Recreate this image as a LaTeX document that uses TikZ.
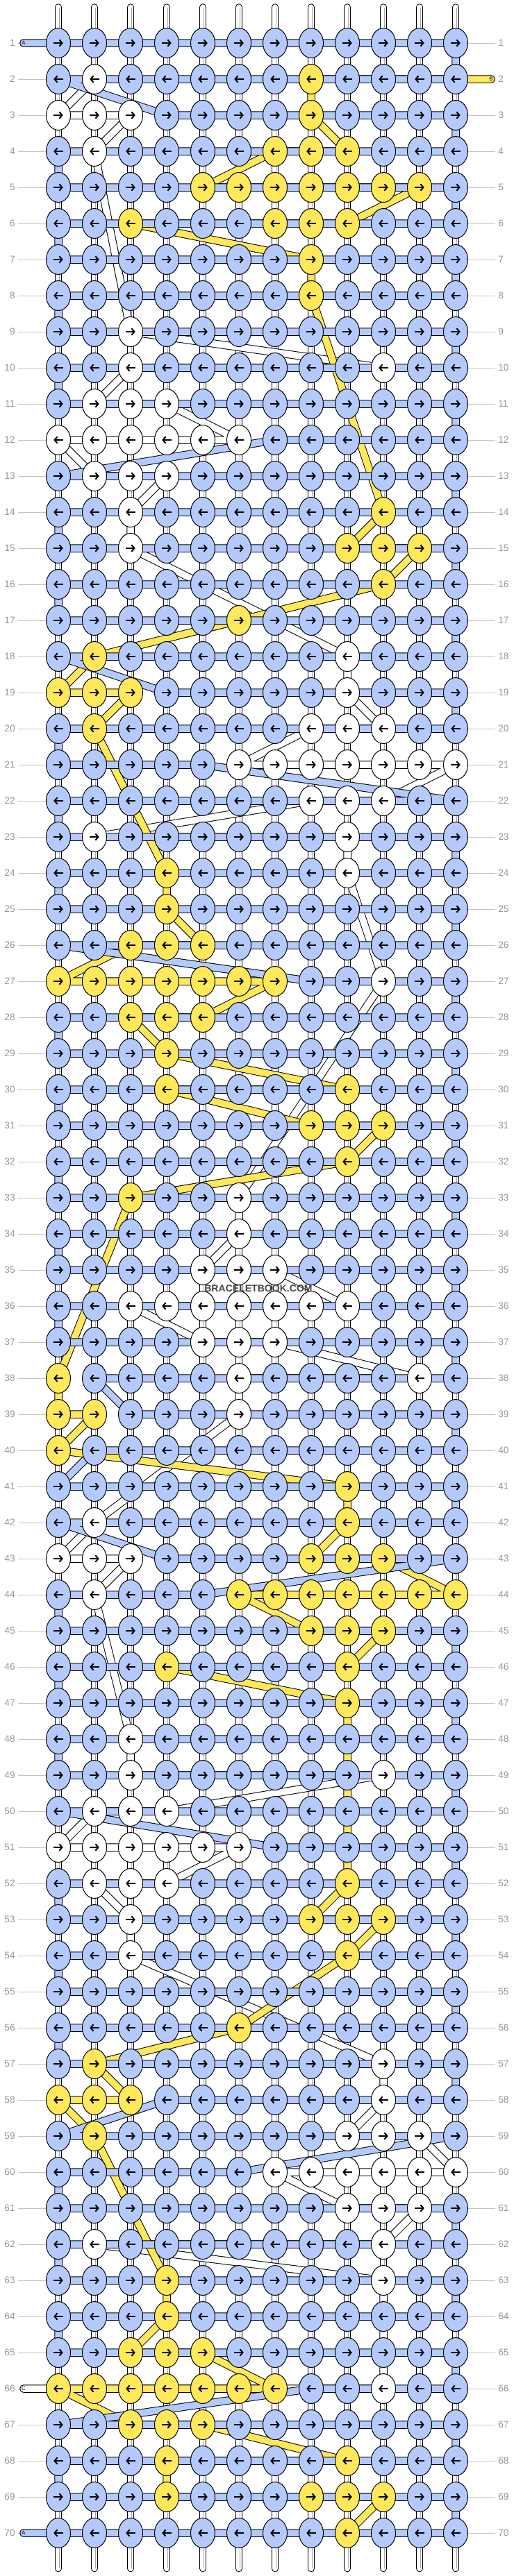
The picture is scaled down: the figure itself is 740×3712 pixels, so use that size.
\documentclass[tikz,border=0pt]{standalone}
\usepackage{fontspec}
\setmainfont{Liberation Sans}
\usetikzlibrary{shapes.geometric,arrows.meta}

\definecolor{knotb}{RGB}{180,202,252}
\definecolor{knoty}{RGB}{255,232,90}
\definecolor{knotw}{RGB}{255,255,255}
\definecolor{numgray}{RGB}{150,150,150}
\definecolor{leadgray}{RGB}{195,195,195}
\definecolor{coregray}{RGB}{170,170,170}
\definecolor{markgray}{RGB}{70,70,70}

\pgfdeclarelayer{strands}
\pgfdeclarelayer{stringC}
\pgfdeclarelayer{stringB}
\pgfdeclarelayer{stringA}
\pgfsetlayers{strands,stringC,stringB,stringA,main}

\begin{document}
\begin{tikzpicture}[x=0.02cm,y=-0.02cm]
      \newcommand{\colx}[1]{84+52*(#1-1)}
      \newcommand{\rowy}[1]{62+52*(#1-1)}

      \useasboundingbox (0,0) rectangle (740,3712);

      \tikzstyle{rownum}=[
        font=\fontsize{7.8pt}{9pt}\selectfont,
        text=numgray,
        inner sep=0pt,
      ]
      \tikzstyle{leadline}=[
        draw=leadgray,
        line width=0.02cm,
      ]
      \tikzstyle{strand}=[
        double=white,
        double distance=0.17cm,
        line width=0.02cm,
        line cap=round,
      ]
      \tikzstyle{strandcore}=[
        draw=coregray,
        double=white,
        double distance=0.03cm,
        line width=0.015cm,
      ]
      \tikzstyle{knotdir}=[
        line width=0.04cm,
        -{Straight Barb[length=0.08cm,width=0.19cm]},
      ]
      \tikzstyle{tailtag}=[
        font=\fontsize{4.4pt}{5pt}\selectfont,
        inner sep=0pt,
      ]
      \tikzstyle{watermark}=[
        font=\bfseries\fontsize{8pt}{9pt}\selectfont,
        text=markgray,
        inner sep=0pt,
      ]
      \tikzset{
        knot/.style={
          ellipse,
          draw,
          line width=0.02cm,
          fill=knot#1,
          minimum width=0.7cm,
          minimum height=0.86cm,
          inner sep=0pt,
        },
        stringband/.style={
          double=#1,
          double distance=0.19cm,
          line width=0.02cm,
          line cap=round,
          line join=round,
        },
      }

      % knots, row by row (b = string A, y = string B, w = string C)
      \foreach \pat [count=\r] in {
        {b,b,b,b,b,b,b,b,b,b,b,b},{b,w,b,b,b,b,b,y,b,b,b,b},{w,w,w,b,b,b,b,y,b,b,b,b},
        {b,w,b,b,b,b,y,y,y,b,b,b},{b,b,b,b,y,y,y,y,y,y,y,b},{b,b,y,b,b,b,y,y,y,b,b,b},
        {b,b,b,b,b,b,b,y,b,b,b,b},{b,b,b,b,b,b,b,y,b,b,b,b},{b,b,w,b,b,b,b,b,b,b,b,b},
        {b,b,w,b,b,b,b,b,b,w,b,b},{b,w,w,w,b,b,b,b,b,b,b,b},{w,w,w,w,w,w,b,b,b,b,b,b},
        {b,w,w,w,b,b,b,b,b,b,b,b},{b,b,w,b,b,b,b,b,b,y,b,b},{b,b,w,b,b,b,b,b,y,y,y,b},
        {b,b,b,b,b,b,b,b,b,y,b,b},{b,b,b,b,b,y,b,b,b,b,b,b},{b,y,b,b,b,b,b,b,w,b,b,b},
        {y,y,y,b,b,b,b,b,w,b,b,b},{b,y,b,b,b,b,b,w,w,w,b,b},{b,b,b,b,b,w,w,w,w,w,w,w},
        {b,b,b,b,b,b,b,w,w,w,b,b},{b,w,b,b,b,b,b,b,w,b,b,b},{b,b,b,y,b,b,b,b,w,b,b,b},
        {b,b,b,y,b,b,b,b,b,b,b,b},{b,b,y,y,y,b,b,b,b,b,b,b},{y,y,y,y,y,y,y,b,b,w,b,b},
        {b,b,y,y,y,b,b,b,b,b,b,b},{b,b,b,y,b,b,b,b,b,b,b,b},{b,b,b,y,b,b,b,b,y,b,b,b},
        {b,b,b,b,b,b,b,y,y,y,b,b},{b,b,b,b,b,b,b,b,y,b,b,b},{b,b,y,b,b,w,b,b,b,b,b,b},
        {b,b,b,b,b,w,b,b,b,b,b,b},{b,b,b,b,w,w,w,b,b,b,b,b},{b,b,w,w,w,w,w,w,w,b,b,b},
        {b,b,b,b,w,w,w,b,b,b,b,b},{y,b,b,b,b,w,b,b,b,b,w,b},{y,y,b,b,b,w,b,b,b,b,b,b},
        {y,b,b,b,b,b,b,b,b,b,b,b},{b,b,b,b,b,b,b,b,y,b,b,b},{b,w,b,b,b,b,b,b,y,b,b,b},
        {w,w,w,b,b,b,b,y,y,y,b,b},{b,w,b,b,b,y,y,y,y,y,y,y},{b,b,b,b,b,b,b,y,y,y,b,b},
        {b,b,b,y,b,b,b,b,y,b,b,b},{b,b,b,b,b,b,b,b,y,b,b,b},{b,b,w,b,b,b,b,b,b,b,b,b},
        {b,b,w,b,b,b,b,b,b,w,b,b},{b,w,w,w,b,b,b,b,b,b,b,b},{w,w,w,w,w,w,b,b,b,b,b,b},
        {b,w,w,w,b,b,b,b,y,b,b,b},{b,b,w,b,b,b,b,y,y,y,b,b},{b,b,w,b,b,b,b,b,y,b,b,b},
        {b,b,b,b,b,b,b,b,b,b,b,b},{b,b,b,b,b,y,b,b,b,b,b,b},{b,y,b,b,b,b,b,b,b,w,b,b},
        {y,y,y,b,b,b,b,b,b,w,b,b},{b,y,b,b,b,b,b,b,w,w,w,b},{b,b,b,b,b,b,w,w,w,w,w,w},
        {b,b,b,b,b,b,b,b,w,w,w,b},{b,w,b,b,b,b,b,b,b,w,b,b},{b,b,b,y,b,b,b,b,b,w,b,b},
        {b,b,b,y,b,b,b,b,b,b,b,b},{b,b,y,y,y,b,b,b,b,b,b,b},{y,y,y,y,y,y,y,b,b,w,b,b},
        {b,b,y,y,y,b,b,b,b,b,b,b},{b,b,b,y,b,b,b,b,y,b,b,b},{b,b,b,y,b,b,b,y,y,y,b,b},
        {b,b,b,b,b,b,b,b,y,b,b,b}} {
        \foreach \kc [count=\c] in \pat {
          \node[knot=\kc] (k-\r-\c) at ({\colx{\c}},{\rowy{\r}}) {};
          \ifodd\r
            \draw[knotdir] ([xshift=-0.135cm]k-\r-\c.center) -- ([xshift=0.135cm]k-\r-\c.center);
          \else
            \draw[knotdir] ([xshift=0.135cm]k-\r-\c.center) -- ([xshift=-0.135cm]k-\r-\c.center);
          \fi
        }
      }

      % row numbers
      \foreach \r in {1,...,70} {
        \node[rownum,anchor=east] (lnum-\r) at (22,{\rowy{\r}}) {\r};
        \node[rownum,anchor=west] (rnum-\r) at (717,{\rowy{\r}}) {\r};
      }

      % string ends
      \node[tailtag] (tagA1) at (34,{\rowy{1}}) {A};
      \node[tailtag] (tagB) at (707,{\rowy{2}}) {B};
      \node[tailtag] (tagC) at (34,{\rowy{66}}) {C};
      \node[tailtag] (tagA70) at (34,{\rowy{70}}) {A};

      \node[watermark] (wm) at (372,1857) {BRACELETBOOK.COM};

      % base strands and leader lines
      \begin{pgfonlayer}{strands}
        \foreach \c in {1,...,12} {
          \coordinate (top-\c) at ({\colx{\c}},10.5);
          \coordinate (bot-\c) at ({\colx{\c}},3701);
          \draw[strand] (top-\c) -- (bot-\c);
          \draw[strandcore] (top-\c) -- (bot-\c);
        }
        \foreach \r in {1,...,70} {
          \draw[leadline] ([xshift=0.08cm]lnum-\r.east) -- (k-\r-1.west);
          \draw[leadline] (k-\r-12.east) -- ([xshift=-0.08cm]rnum-\r.west);
        }
      \end{pgfonlayer}

      % string C
      \newcommand{\cknots}{3/1, 3/3, 4/2, 9/3, 10/10, 10/3, 11/2, 11/4, 12/6, 12/1,
        13/2, 13/4, 14/3, 15/3, 18/9, 19/9, 20/10, 20/8, 21/6, 21/12, 22/10, 22/8,
        23/2, 23/9, 24/9, 27/10, 33/6, 34/6, 35/5, 35/7, 36/9, 36/3, 37/5, 37/7,
        38/11, 38/6, 39/6, 42/2, 43/1, 43/3, 44/2, 48/3, 49/3, 49/10, 50/4, 50/2,
        51/1, 51/6, 52/4, 52/2, 53/3, 54/3, 57/10, 58/10, 59/9, 59/11, 60/12, 60/7,
        61/9, 61/11, 62/10, 62/2, 63/10, 66/10}
      \begin{pgfonlayer}{stringC}
        \draw[stringband=white] (k-2-2.center)
          \foreach \r/\c in \cknots { -- (k-\r-\c.center) } -- (tagC.center);
      \end{pgfonlayer}

      % string B
      \newcommand{\bknots}{2/8, 3/8, 4/9, 4/7, 5/5, 5/11, 6/9, 6/3, 7/8, 8/8,
        14/10, 15/9, 15/11, 16/10, 17/6, 18/2, 19/1, 19/3, 20/2, 24/4, 25/4,
        26/5, 26/3, 27/1, 27/7, 28/5, 28/3, 29/4, 30/9, 30/4, 31/8, 31/10, 32/9,
        33/3, 38/1, 39/1, 39/2, 40/1, 41/9, 42/9, 43/8, 43/10, 44/12, 44/6,
        45/8, 45/10, 46/9, 46/4, 47/9, 52/9, 53/8, 53/10, 54/9, 56/6, 57/2,
        58/3, 58/1, 59/2, 63/4, 64/4, 65/3, 65/5, 66/7, 66/1, 67/3, 67/5,
        68/9, 68/4, 69/4, 69/10, 70/9}
      \begin{pgfonlayer}{stringB}
        \draw[stringband=knoty] (tagB.center)
          \foreach \r/\c in \bknots { -- (k-\r-\c.center) };
      \end{pgfonlayer}

      % string A (row / first knot / last knot)
      \newcommand{\arows}{1/1/12, 2/12/1, 3/4/12, 4/12/1, 5/1/12, 6/12/1, 7/1/12,
        8/12/1, 9/1/12, 10/12/1, 11/1/12, 12/12/7, 13/1/12, 14/12/1, 15/1/12,
        16/12/1, 17/1/12, 18/12/1, 19/4/12, 20/12/1, 21/1/5, 22/12/1, 23/1/12,
        24/12/1, 25/1/12, 26/12/1, 27/8/12, 28/12/1, 29/1/12, 30/12/1, 31/1/12,
        32/12/1, 33/1/12, 34/12/1, 35/1/12, 36/12/1, 37/1/12, 38/12/2, 39/3/12,
        40/12/2, 41/1/12, 42/12/1, 43/4/12, 44/5/1, 45/1/12, 46/12/1, 47/1/12,
        48/12/1, 49/1/12, 50/12/1, 51/7/12, 52/12/1, 53/1/12, 54/12/1, 55/1/12,
        56/12/1, 57/1/12, 58/12/4, 59/1/12, 60/6/1, 61/1/12, 62/12/1, 63/1/12,
        64/12/1, 65/1/12, 66/12/8, 67/1/12, 68/12/1, 69/1/12, 70/12/1}
      \begin{pgfonlayer}{stringA}
        \draw[stringband=knotb] (tagA1.center)
          \foreach \r/\s/\e in \arows { -- (k-\r-\s.center) -- (k-\r-\e.center) }
          -- (tagA70.center);
      \end{pgfonlayer}
\end{tikzpicture}
\end{document}
